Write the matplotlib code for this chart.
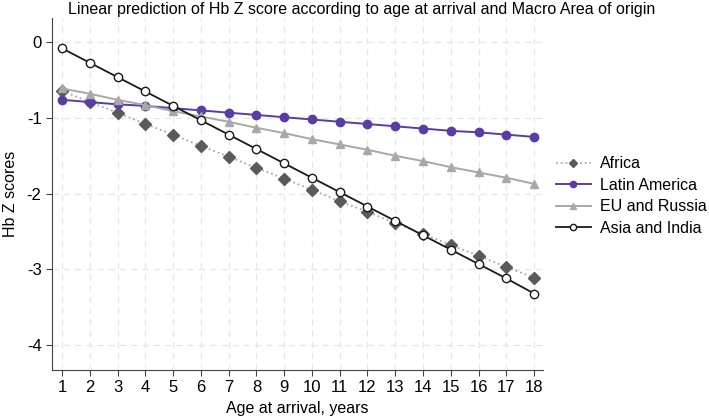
import matplotlib
matplotlib.use("Agg")
import matplotlib.pyplot as plt

plt.rcParams['font.family'] = ['Liberation Sans', 'DejaVu Sans']
plt.rcParams['axes.unicode_minus'] = False

# idade de chegada
idade = list(range(1, 19))

# previsões lineares
africa = [-0.64, -0.79, -0.93, -1.08, -1.22, -1.37, -1.51, -1.66, -1.80,
          -1.95, -2.10, -2.24, -2.39, -2.53, -2.68, -2.82, -2.97, -3.11]
latin_america = [-0.76, -0.79, -0.82, -0.84, -0.87, -0.90, -0.93, -0.96, -0.99,
                 -1.02, -1.05, -1.08, -1.11, -1.14, -1.17, -1.19, -1.22, -1.25]
eu_russia = [-0.61, -0.68, -0.76, -0.83, -0.91, -0.98, -1.05, -1.13, -1.20,
             -1.28, -1.35, -1.42, -1.50, -1.57, -1.65, -1.72, -1.79, -1.87]
asia_india = [-0.08, -0.27, -0.46, -0.65, -0.84, -1.03, -1.22, -1.41, -1.60,
              -1.79, -1.98, -2.17, -2.36, -2.55, -2.74, -2.93, -3.12, -3.32]

fig = plt.figure(figsize=(7.09, 4.2), dpi=100)
ax = fig.add_axes([0.0733, 0.119, 0.693, 0.838])

ax.plot(idade, africa, color='#aaaaaa', linestyle=':', linewidth=1.3,
        marker='D', markersize=6, markerfacecolor='#5a5a5a', markeredgecolor='#5a5a5a',
        label='Africa')
ax.plot(idade, latin_america, color='#5b3ba6', linewidth=1.4,
        marker='o', markersize=6, label='Latin America')
ax.plot(idade, eu_russia, color='#a8a8a8', linewidth=1.4,
        marker='^', markersize=6, label='EU and Russia')
ax.plot(idade, asia_india, color='#1a1a1a', linewidth=1.3,
        marker='o', markersize=6, markerfacecolor='white', markeredgecolor='#1a1a1a',
        label='Asia and India')

ax.set_xlim(0.64, 18.33)
ax.set_ylim(-4.33, 0.32)
ax.set_xticks(idade)
ax.set_yticks([0, -1, -2, -3, -4])
ax.grid(True, color='#e6e6e6', linestyle=(0, (5, 4)), linewidth=0.9)
ax.set_axisbelow(True)
for s in ['top', 'right']:
    ax.spines[s].set_visible(False)
for s in ['left', 'bottom']:
    ax.spines[s].set_color('#444444')
ax.tick_params(direction='out', length=4, color='#444444', labelsize=12)

ax.set_xlabel('Age at arrival, years', fontsize=11.5)
ax.set_ylabel('Hb Z scores', fontsize=11.5, labelpad=6)
fig.suptitle('Linear prediction of Hb Z score according to age at arrival and Macro Area of origin',
             fontsize=11.5, x=0.51, y=0.995)

ax.legend(loc='upper left', bbox_to_anchor=(1.012, 0.625), frameon=False,
          fontsize=11.5, handlelength=2.2, handletextpad=0.6, markerscale=0.75,
          labelspacing=0.4, borderaxespad=0)

fig.savefig('out.png', dpi=100)
